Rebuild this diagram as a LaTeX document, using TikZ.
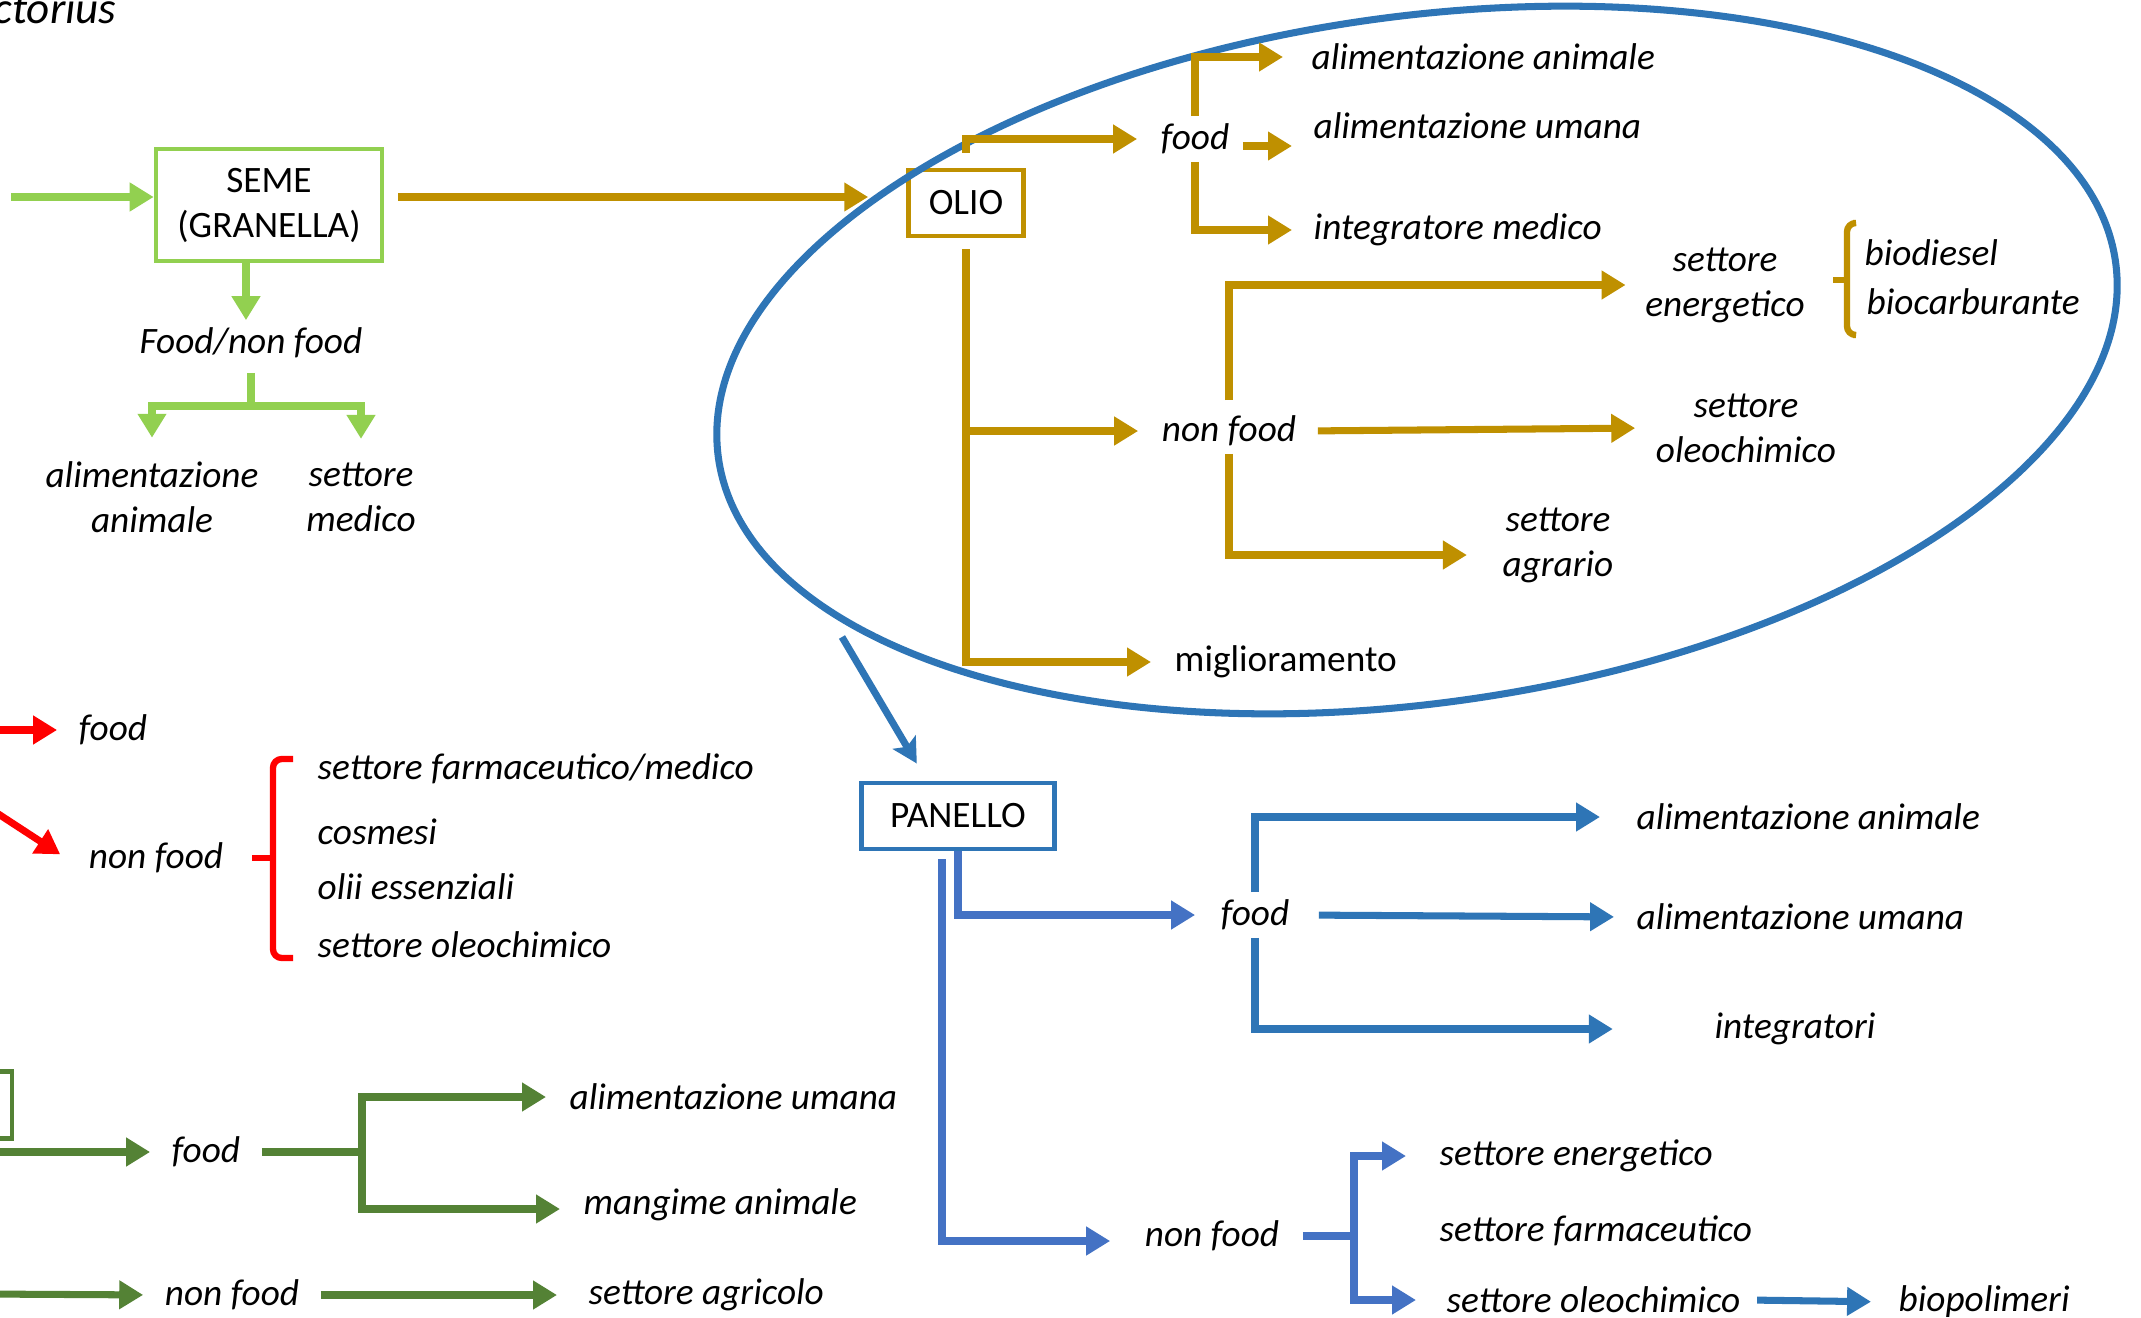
\documentclass[tikz,border=0pt]{standalone}
\usepackage{fontspec}
\setmainfont{Carlito}
\usepackage{xcolor}
\usepackage{tikz}
\usetikzlibrary{arrows.meta}
\definecolor{lgreen}{HTML}{92D050}
\definecolor{dgreen}{HTML}{548235}
\definecolor{gold}{HTML}{BF9000}
\definecolor{blueA}{HTML}{2E75B6}
\definecolor{blueB}{HTML}{4472C4}
\definecolor{redR}{HTML}{FF0000}

\begin{document}
\begin{tikzpicture}[x=0.01cm, y=-0.01cm,
  lbl/.style={font=\fontsize{10.6pt}{12.8pt}\selectfont\itshape, inner sep=2pt},
  lbl2/.style={lbl, align=center},
  txt/.style={font=\fontsize{10.6pt}{12.8pt}\selectfont, inner sep=2pt},
  box/.style={draw, line width=1.3pt, font=\fontsize{10.6pt}{12.8pt}\selectfont, align=center, inner sep=2pt},
  ln/.style={line width=2pt},
  ar/.style={ln, -{Triangle[length=6.8pt, width=7.8pt]}},
  brace/.style={line width=1.8pt, rounded corners=2.5pt}]

\path[use as bounding box, fill=white] (0,0) rectangle (2141,1318);

\node[font=\fontsize{12.8pt}{15pt}\selectfont\itshape, anchor=base west, inner sep=0pt] (t0) at (-7,23) {ctorius};

\node[box, draw=lgreen, minimum width=2.26cm, minimum height=1.12cm] (seme) at (269,205) {SEME\\(GRANELLA)};
\coordinate (s0) at (11,197);
\node[lbl] (s1) at (251,343) {Food/non food};
\coordinate (s1k) at (251,406);
\node[lbl2] (s11) at (152,497) {alimentazione\\animale};
\node[lbl2] (s12) at (361,497) {settore\\medico};

\node[box, draw=gold, minimum width=1.15cm, minimum height=0.66cm] (olio) at (966,203) {OLIO};
\node[lbl] (o1) at (1195,139) {food};
\node[lbl, anchor=west] (o11) at (1304,57) {alimentazione animale};
\node[lbl, anchor=west] (o12) at (1306,126) {alimentazione umana};
\node[lbl, anchor=west] (o13) at (1306,230) {integratore medico};
\node[lbl] (o2) at (1229,431) {non food};
\node[lbl2] (o21) at (1725,285) {settore\\energetico};
\node[lbl2] (o22) at (1746,428) {settore\\oleochimico};
\node[lbl2] (o23) at (1558,545) {settore\\agrario};
\node[lbl, anchor=west] (o211) at (1857,253) {biodiesel};
\node[lbl, anchor=west] (o212) at (1859,302) {biocarburante};
\node[txt, anchor=west] (o3) at (1167,662) {miglioramento};

\node[box, draw=blueA, minimum width=1.93cm, minimum height=0.66cm] (panello) at (958,816) {PANELLO};
\coordinate (p0) at (842,637);
\node[lbl] (p1) at (1255,915) {food};
\node[lbl, anchor=west] (p11) at (1629,817) {alimentazione animale};
\node[lbl, anchor=west] (p12) at (1629,917) {alimentazione umana};
\node[lbl] (p13) at (1795,1029) {integratori};
\node[lbl] (p2) at (1212,1236) {non food};
\coordinate (p2k) at (1354,1236);
\node[lbl, anchor=west] (p21) at (1432,1156) {settore energetico};
\node[lbl, anchor=west] (p22) at (1432,1231) {settore farmaceutico};
\node[lbl, anchor=west] (p23) at (1439,1300) {settore oleochimico};
\node[lbl, anchor=west] (p231) at (1891,1302) {biopolimeri};

\coordinate (r0) at (-20,730);
\node[lbl] (r1) at (113,730) {food};
\coordinate (r0b) at (-20,802);
\node[lbl] (r2) at (156,858) {non food};
\node[lbl, anchor=west] (r21) at (310,769) {settore farmaceutico/medico};
\node[lbl, anchor=west] (r22) at (310,832) {cosmesi};
\node[lbl, anchor=west] (r23) at (310,887) {olii essenziali};
\node[lbl, anchor=west] (r24) at (310,945) {settore oleochimico};

\node[draw=dgreen, line width=1.3pt, minimum width=1.44cm, minimum height=0.67cm] (g0) at (-60,1105) {};
\coordinate (g0a) at (-20,1152);
\node[lbl] (g1) at (206,1152) {food};
\coordinate (g1k) at (362,1152);
\node[lbl, anchor=west] (g11) at (562,1097) {alimentazione umana};
\node[lbl, anchor=west] (g12) at (576,1205) {mangime animale};
\coordinate (g0b) at (-20,1294);
\node[lbl] (g2) at (232,1295) {non food};
\node[lbl, anchor=west] (g21) at (581,1295) {settore agricolo};

\draw[blueA, line width=2pt, rotate around={8:(1417,360)}] (1417,360) ellipse [x radius=7.05cm, y radius=3.43cm];

\draw[ar, lgreen] (s0) -- (s0 -| seme.west);
\draw[ar, lgreen] ([xshift=-0.23cm]seme.south) -- ([xshift=-0.23cm]seme.south |- s1.north);
\draw[ln, lgreen, shorten <=0.07cm] (s1.south) -- (s1k);
\draw[ar, lgreen, shorten >=0.16cm] (s1k) -| (s11.north);
\draw[ar, lgreen, shorten >=0.16cm] (s1k) -| (s12.north);

\draw[ar, gold, shorten <=0.14cm, shorten >=0.38cm] ([yshift=0.08cm]seme.east) -- ([yshift=0.08cm]seme.east -| olio.west);
\draw[ar, gold, shorten <=0.15cm, shorten >=0.16cm] (olio.north) |- (o1.west);
\draw[ar, gold, shorten >=0.21cm] (o1.north) |- (o11.west);
\draw[ar, gold] ([xshift=0.06cm, yshift=-0.07cm]o1.east) -- ++(49,0);
\draw[ar, gold, shorten >=0.14cm] (o1.south) |- (o13.west);
\draw[ar, gold, shorten <=0.11cm, shorten >=0.16cm] (olio.south) |- (o2.west);
\draw[ar, gold, shorten <=0.11cm, shorten >=0.16cm] (olio.south) |- (o3.west);
\draw[ar, gold, shorten <=0.08cm, shorten >=0.12cm] (o2.north) |- (o21.west);
\draw[ar, gold, shorten <=0.14cm, shorten >=0.13cm] (o2.east) -- (o22.west);
\draw[ar, gold, shorten >=0.28cm] (o2.south) |- ([yshift=-0.1cm]o23.west);
\draw[brace, gold] (1853,223) -| (1847,335) -- (1853,335);
\draw[brace, gold] (1847,280) -- (1833,280);

\draw[ln, blueA, -{Stealth[length=7pt, width=7.5pt, inset=1.5pt]}, shorten >=0.2cm] (p0) -- ([xshift=-0.31cm]panello.north);
\draw[ar, blueB, shorten >=0.18cm] (panello.south) |- (p1.west);
\draw[ar, blueB, shorten <=0.08cm, shorten >=0.27cm] ([xshift=-0.16cm]panello.south) |- ([yshift=-0.05cm]p2.west);
\draw[ar, blueA, shorten >=0.29cm] (p1.north) |- (p11.west);
\draw[ar, blueA, shorten <=0.22cm, shorten >=0.15cm] (p1.east) -- (p12.west);
\draw[ar, blueA, shorten >=0.94cm] (p1.south) |- (p13.west);
\draw[ln, blueB, shorten <=0.16cm] (p2.east) -- (p2k);
\draw[ar, blueB, shorten >=0.26cm] (p2k) |- (p21.west);
\draw[ar, blueB, shorten >=0.23cm] (p2k) |- (p23.west);
\draw[ar, blueA, shorten <=0.09cm, shorten >=0.2cm] (p23.east) -- (p231.west);

\draw[ar, redR, shorten >=0.14cm] (r0) -- (r1.west);
\draw[ar, redR, shorten >=0.25cm] (r0b) -- ([yshift=-0.1cm]r2.west);
\draw[brace, redR] (293,759) -| (273,958) -- (293,958);
\draw[brace, redR] (273,858) -- (252,858);

\draw[ar, dgreen, shorten >=0.14cm] (g0a) -- (g1.west);
\draw[ln, dgreen, shorten <=0.14cm] (g1.east) -- (g1k);
\draw[ar, dgreen, shorten >=0.16cm] (g1k) |- (g11.west);
\draw[ar, dgreen, shorten >=0.16cm] (g1k) |- ([yshift=-0.04cm]g12.west);
\draw[ar, dgreen, shorten >=0.14cm] (g0b) -- (g2.west);
\draw[ar, dgreen, shorten <=0.14cm, shorten >=0.24cm] (g2.east) -- (g21.west);

\end{tikzpicture}
\end{document}
